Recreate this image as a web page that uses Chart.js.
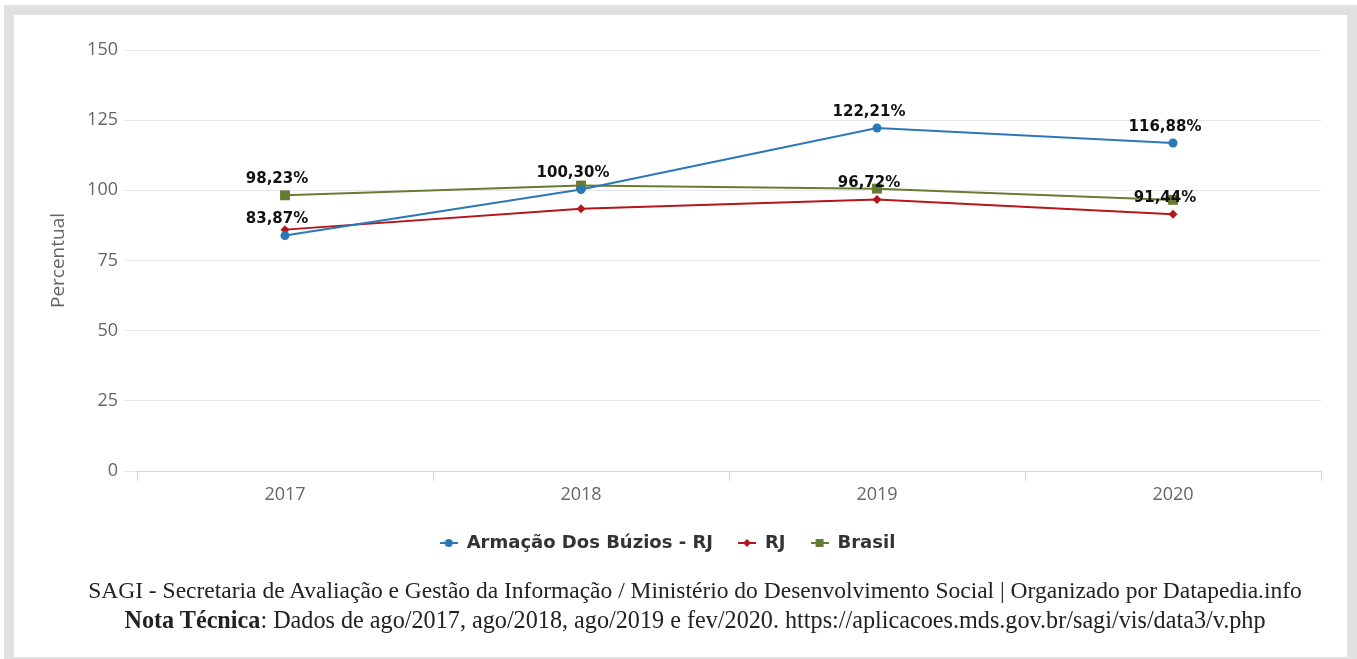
<!DOCTYPE html>
<html>
<head>
<meta charset="utf-8">
<script src="https://cdn.jsdelivr.net/npm/chart.js@4"></script>
<style>
  html, body { margin: 0; padding: 0; background: #fff; }
  body { width: 1357px; height: 659px; position: relative; overflow: hidden; }
  #frame { position: absolute; left: 4px; top: 5px; width: 1353px; height: 654px; background: #e1e1e1; }
  #box { position: absolute; left: 14px; top: 15px; width: 1333px; height: 642px; background: #fff; }
  #wrap { position: absolute; left: 14px; top: 15px; width: 1333px; height: 575px; }
  .foot { position: absolute; left: 0; width: 1390px; text-align: center; font-family: "Liberation Serif", "DejaVu Serif", serif; color: #222; white-space: nowrap; line-height: 28px; }
</style>
</head>
<body>
<div id="frame"></div>
<div id="box"></div>
<div id="wrap"><canvas id="chart" width="1333" height="575"></canvas></div>
<div class="foot" style="top:576px; font-size:23.5px">SAGI - Secretaria de Avaliação e Gestão da Informação / Ministério do Desenvolvimento Social | Organizado por Datapedia.info</div>
<div class="foot" style="top:606px; font-size:24.2px"><b>Nota Técnica</b>: Dados de ago/2017, ago/2018, ago/2019 e fev/2020. https://aplicacoes.mds.gov.br/sagi/vis/data3/v.php</div>
<script>
const years = ['2017', '2018', '2019', '2020'];
const buzios = [83.87, 100.30, 122.21, 116.88];
const rj = [86.0, 93.4, 96.72, 91.44];
const brasil = [98.23, 101.7, 100.6, 96.6];
// which points carry a visible value label (others were hidden in the original)
const buziosLabels = [0, 1, 2, 3];
const rjLabels = [2, 3];
const brasilLabels = [0];

const FONT = '"Open Sans", "Noto Sans", sans-serif';
const WIDE = '"DejaVu Sans", sans-serif';

function legendIcon(color, shape){
  const c = document.createElement('canvas');
  c.width = 18; c.height = 12;
  const ctx = c.getContext('2d');
  ctx.strokeStyle = color; ctx.fillStyle = color; ctx.lineWidth = 2;
  ctx.beginPath(); ctx.moveTo(0, 6); ctx.lineTo(18, 6); ctx.stroke();
  ctx.beginPath();
  if (shape == 'circle'){
    ctx.arc(9, 6, 4, 0, Math.PI * 2);
  } else if (shape == 'diamond'){
    ctx.moveTo(9, 2); ctx.lineTo(13, 6); ctx.lineTo(9, 10); ctx.lineTo(5, 6); ctx.closePath();
  } else {
    ctx.rect(5, 2, 8, 8);
  }
  ctx.fill();
  return c;
}

const valueLabels = {
  id: 'valueLabels',
  afterDatasetsDraw(chart){
    const ctx = chart.ctx;
    ctx.save();
    ctx.font = 'bold 15px ' + WIDE;
    ctx.fillStyle = '#111';
    ctx.textAlign = 'center';
    ctx.textBaseline = 'middle';
    chart.data.datasets.forEach((ds, i) => {
      const meta = chart.getDatasetMeta(i);
      ds.showLabels.forEach(j => {
        const pt = meta.data[j];
        const txt = ds.data[j].toFixed(2).replace('.', ',') + '%';
        ctx.fillText(txt, pt.x - 8, pt.y - 16);
      });
    });
    ctx.restore();
  }
};

const series = [
  { label: 'Armação Dos Búzios - RJ', data: buzios, color: '#2a78b8', style: 'circle', radius: 4.5, shape: 'circle', show: buziosLabels },
  { label: 'RJ', data: rj, color: '#b5151b', style: 'rectRot', radius: 4.5, shape: 'diamond', show: rjLabels },
  { label: 'Brasil', data: brasil, color: '#677c33', style: 'rect', radius: 7, shape: 'square', show: brasilLabels }
];

const cfg = {
  type: 'line',
  data: {
    labels: years,
    datasets: series.map(s => ({
      label: s.label,
      data: s.data,
      borderColor: s.color,
      backgroundColor: s.color,
      borderWidth: 2,
      pointStyle: s.style,
      pointRadius: s.radius,
      pointBorderWidth: 0,
      pointBackgroundColor: s.color,
      tension: 0,
      icon: legendIcon(s.color, s.shape),
      showLabels: s.show
    }))
  },
  options: {
    responsive: false,
    animation: false,
    events: [],
    layout: { padding: { left: 0, right: 26, top: 35, bottom: 28 } },
    plugins: {
      tooltip: { enabled: false },
      legend: {
        position: 'bottom',
        labels: {
          usePointStyle: true,
          pointStyleWidth: 18,
          padding: 25,
          color: '#333',
          font: { family: WIDE, size: 18, weight: 'bold' },
          generateLabels(chart){
            return chart.data.datasets.map((ds, i) => ({
              text: ds.label,
              pointStyle: ds.icon,
              fontColor: '#333',
              datasetIndex: i,
              hidden: false,
              lineWidth: 0
            }));
          }
        }
      }
    },
    scales: {
      x: {
        offset: true,
        afterFit(scale){ scale.height = 38; },
        grid: { offset: true, drawOnChartArea: false, drawTicks: true, tickLength: 10, color: '#ccd6eb' },
        border: { display: true, color: '#ccd6eb', width: 1 },
        ticks: { color: '#666', padding: 3, font: { family: FONT, size: 18 } }
      },
      y: {
        min: 0,
        max: 150,
        afterFit(scale){ scale.width = 123; },
        grid: { color: '#e6e6e6', drawTicks: true, tickLength: 12 },
        border: { display: false },
        ticks: { stepSize: 25, color: '#666', padding: 7, font: { family: FONT, size: 18 } },
        title: { display: true, text: 'Percentual', color: '#666', padding: { top: 33, bottom: 0 }, font: { family: FONT, size: 19 } }
      }
    }
  },
  plugins: [valueLabels]
};

new Chart(document.getElementById('chart'), cfg);
</script>
</body>
</html>
